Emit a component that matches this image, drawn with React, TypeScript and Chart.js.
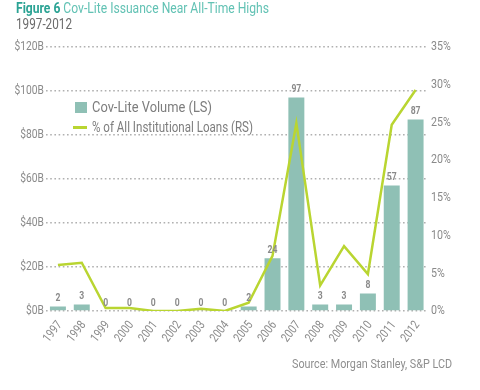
import React, { useEffect, useRef } from "react";
import { Chart, registerables } from "chart.js";

Chart.register(...registerables);

const years = ["1997","1998","1999","2000","2001","2002","2003","2004","2005","2006","2007","2008","2009","2010","2011","2012"];
const volume = [2, 3, 0, 0, 0, 0, 0, 0, 2, 24, 97, 3, 3, 8, 57, 87];
const pctInstitutional = [6.1, 6.4, 0.4, 0.4, 0, 0, 0.3, 0, 1.1, 7.3, 24.9, 3.4, 8.6, 4.9, 24.7, 29.3];
const leftTicks = [0, 20, 40, 60, 80, 100, 120];
const rightTicks = [0, 5, 10, 15, 20, 25, 30, 35];

const FONT = "Roboto, 'DejaVu Sans Condensed', sans-serif";
const BAR = "#8fc0b5";
const LINE = "#b9d531";
const TXT = "#8a8a8a";
const SX = 0.82;

function drawCondensed(ctx: CanvasRenderingContext2D, text: string, x: number, y: number, sx: number, rot = 0) {
  ctx.save();
  ctx.translate(x, y);
  if (rot) ctx.rotate(rot);
  ctx.scale(sx, 1);
  ctx.fillText(text, 0, 0);
  ctx.restore();
}

const textPlugin = {
  id: "condensedText",
  afterDatasetsDraw(chart: any) {
    const ctx: CanvasRenderingContext2D = chart.ctx;
    const area = chart.chartArea;
    ctx.save();
    // bar value labels
    const meta = chart.getDatasetMeta(1);
    ctx.font = `bold 10.5px ${FONT}`;
    ctx.fillStyle = "#8a8a8a";
    ctx.textAlign = "center";
    ctx.textBaseline = "middle";
    meta.data.forEach((el: any, i: number) => {
      drawCondensed(ctx, String(volume[i]), el.x, el.y - 8, SX);
    });
    // left axis
    const yL = chart.scales.yL;
    ctx.font = `12.5px ${FONT}`;
    ctx.fillStyle = TXT;
    ctx.textAlign = "right";
    leftTicks.forEach((v) => {
      drawCondensed(ctx, `$${v}B`, area.left - 2, yL.getPixelForValue(v), SX);
    });
    // right axis
    const yR = chart.scales.yR;
    ctx.textAlign = "left";
    ctx.font = `13px ${FONT}`;
    rightTicks.forEach((v) => {
      drawCondensed(ctx, `${v}%`, area.right + 3.5, yR.getPixelForValue(v), SX);
    });
    // x labels
    const x = chart.scales.x;
    ctx.font = `12.5px ${FONT}`;
    ctx.textAlign = "right";
    ctx.textBaseline = "middle";
    years.forEach((y, i) => {
      drawCondensed(ctx, y, x.getPixelForTick(i) + 2, area.bottom + 12, 0.8, (-52 * Math.PI) / 180);
    });
    ctx.restore();
  },
};

const measureCtx = typeof document !== "undefined" ? document.createElement("canvas").getContext("2d") : null;
function textWidth(text: string, font: string) {
  if (!measureCtx) return 1;
  measureCtx.font = font;
  return measureCtx.measureText(text).width;
}

function FitText(props: { text: string; left: number; cy: number; width: number; size: number; color: string; bold?: boolean }) {
  const font = `${props.bold ? "bold " : ""}${props.size}px ${FONT}`;
  const w = textWidth(props.text, font);
  const s = props.width / w;
  return (
    <div
      style={{
        position: "absolute",
        left: props.left,
        top: props.cy - props.size * 0.6,
        font,
        lineHeight: `${props.size * 1.2}px`,
        color: props.color,
        whiteSpace: "nowrap",
        transform: `scaleX(${s})`,
        transformOrigin: "0 0",
      }}
    >
      {props.text}
    </div>
  );
}

export default function App() {
  const ref = useRef<HTMLCanvasElement>(null);
  useEffect(() => {
    const chart = new Chart(ref.current!, {
      data: {
        labels: years,
        datasets: [
          {
            type: "line",
            label: "% of All Institutional Loans (RS)",
            data: pctInstitutional,
            yAxisID: "yR",
            borderColor: LINE,
            borderWidth: 2.5,
            pointRadius: 0,
            tension: 0,
            order: 0,
          },
          {
            type: "bar",
            label: "Cov-Lite Volume (LS)",
            data: volume,
            yAxisID: "yL",
            backgroundColor: BAR,
            barPercentage: 0.67,
            categoryPercentage: 1,
            order: 1,
          },
        ] as any,
      },
      options: {
        animation: false,
        responsive: false,
        layout: { padding: { top: 47, bottom: 37, left: 0, right: 7.5 } },
        plugins: { legend: { display: false }, tooltip: { enabled: false } },
        scales: {
          x: {
            grid: { display: false },
            border: { display: false },
            ticks: { display: false },
            afterFit: (s: any) => { s.height = 42; },
          },
          yL: {
            position: "left",
            min: 0,
            max: 120,
            afterBuildTicks: (s: any) => { s.ticks = leftTicks.map((v) => ({ value: v })); },
            grid: { color: "#b0b0b0", lineWidth: 1.6, drawTicks: false },
            border: { display: false, dash: [1.6, 2.6] },
            ticks: { display: false },
            afterFit: (s: any) => { s.width = 46; },
          },
          yR: {
            position: "right",
            min: 0,
            max: 35,
            grid: { display: false },
            border: { display: false },
            ticks: { display: false, stepSize: 5 },
            afterFit: (s: any) => { s.width = 45; },
          },
        },
      } as any,
      plugins: [textPlugin],
    });
    return () => chart.destroy();
  }, []);

  const titleBold = "Figure 6";
  const titleRest = " Cov-Lite Issuance Near All-Time Highs";
  const tFontB = `bold 14.5px ${FONT}`;
  const tFont = `14.5px ${FONT}`;
  const tw = textWidth(titleBold, tFontB) + textWidth(titleRest, tFont);
  const ts = 253 / tw;

  return (
    <div style={{ position: "absolute", left: 0, top: 0, width: 480, height: 390, background: "#fff", fontFamily: FONT }}>
      <canvas ref={ref} width={480} height={390} style={{ position: "absolute", left: 0, top: 0 }} />
      <div
        style={{
          position: "absolute",
          left: 16,
          top: 0,
          fontSize: 14.5,
          lineHeight: "17px",
          whiteSpace: "nowrap",
          color: "#62c2b4",
          transform: `scaleX(${ts})`,
          transformOrigin: "0 0",
        }}
      >
        <span style={{ fontWeight: "bold", color: "#2ba394" }}>{titleBold}</span>
        {titleRest}
      </div>
      <FitText text="1997-2012" left={16} cy={24} width={56} size={14} color="#6b6b6b" />
      <div style={{ position: "absolute", left: 75, top: 102, width: 12, height: 11, background: BAR }} />
      <div style={{ position: "absolute", left: 73, top: 125.5, width: 14, height: 3, background: LINE }} />
      <FitText text="Cov-Lite Volume (LS)" left={92} cy={107.5} width={120} size={14} color="#7d7d7d" />
      <FitText text="% of All Institutional Loans (RS)" left={92} cy={127} width={161} size={14} color="#7d7d7d" />
      <FitText text="Source: Morgan Stanley, S&P LCD" left={292} cy={363} width={160} size={13.5} color="#8f8f8f" />
    </div>
  );
}
